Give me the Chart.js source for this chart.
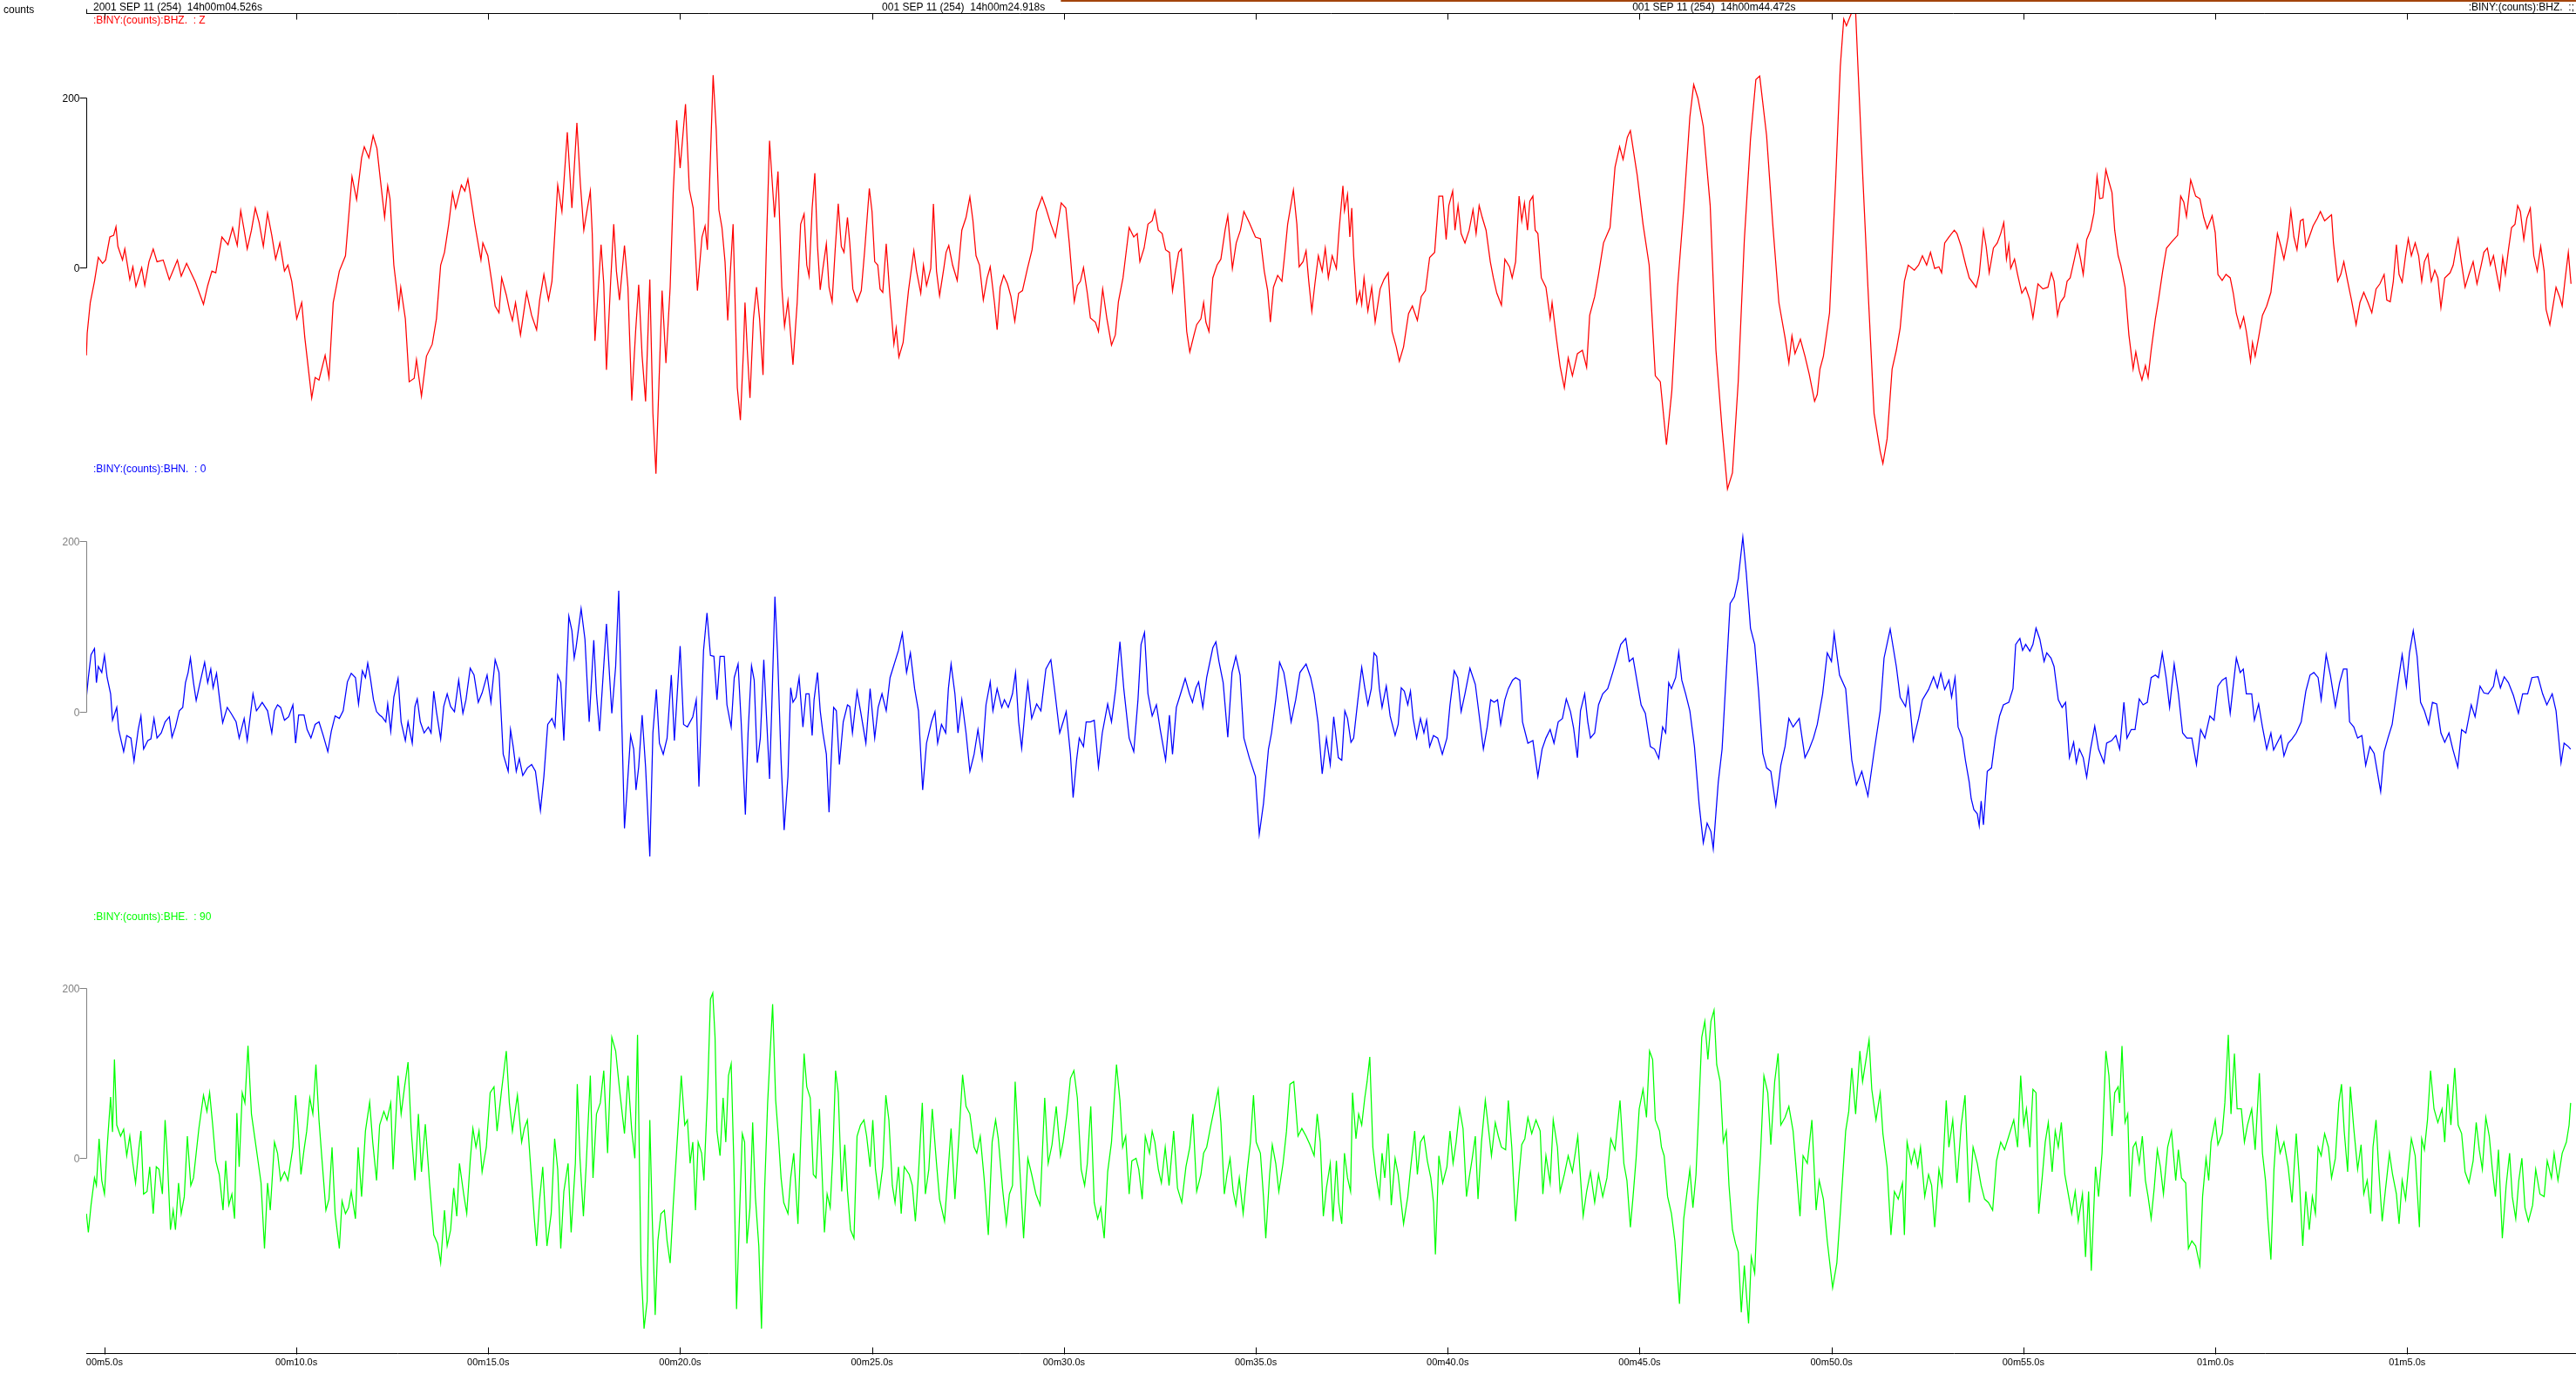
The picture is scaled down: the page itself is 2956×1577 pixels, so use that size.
<!DOCTYPE html>
<html>
<head>
<meta charset="utf-8">
<title>BINY seismogram</title>
<script src="https://cdn.jsdelivr.net/npm/chart.js@4.4.1/dist/chart.umd.min.js"></script>
<style>
  html, body { margin: 0; padding: 0; background: #fff; overflow: hidden; }
  #wrap { position: relative; width: 2956px; height: 1577px; }
</style>
</head>
<body>
<div id="wrap"><canvas id="seis" width="2956" height="1577"></canvas></div>
<script>
// [seconds after 14h00m, counts]
const bhzTrace = [
  [4.53,-103],[4.55,-77],[4.63,-41],[4.74,-16],[4.84,12],[4.95,5],[5.03,9],[5.14,36],[5.24,38],[5.30,48],[5.35,25],[5.47,9],
  [5.53,22],[5.66,-14],[5.74,1],[5.82,-22],[5.97,0],[6.05,-21],[6.16,7],[6.27,22],[6.37,7],[6.53,9],[6.69,-14],[6.90,9],
  [7.00,-10],[7.14,5],[7.37,-17],[7.58,-43],[7.69,-21],[7.80,-4],[7.90,-6],[8.06,36],[8.22,27],[8.34,47],[8.46,26],[8.55,67],
  [8.64,44],[8.72,22],[8.83,44],[8.93,70],[9.03,53],[9.14,25],[9.25,64],[9.36,38],[9.46,10],[9.57,29],[9.69,-4],[9.78,3],
  [9.88,-16],[10.01,-60],[10.14,-41],[10.22,-82],[10.40,-153],[10.49,-129],[10.59,-132],[10.75,-103],[10.85,-129],[10.96,-41],[11.12,-4],[11.28,14],
  [11.45,107],[11.57,80],[11.70,129],[11.77,142],[11.89,129],[12.00,155],[12.10,140],[12.18,107],[12.30,59],[12.38,96],[12.44,81],[12.54,3],
  [12.67,-47],[12.72,-23],[12.84,-60],[12.94,-134],[13.07,-130],[13.13,-108],[13.26,-151],[13.39,-104],[13.54,-90],[13.65,-60],[13.76,3],[13.86,18],
  [13.97,51],[14.07,88],[14.15,70],[14.30,97],[14.39,90],[14.47,104],[14.55,81],[14.65,51],[14.81,9],[14.86,29],[14.99,14],[15.09,-16],
  [15.18,-45],[15.28,-53],[15.35,-12],[15.47,-32],[15.55,-49],[15.63,-62],[15.71,-41],[15.84,-79],[16.00,-29],[16.13,-56],[16.26,-73],[16.34,-38],
  [16.45,-8],[16.57,-38],[16.66,-16],[16.81,97],[16.92,66],[17.06,159],[17.18,70],[17.31,170],[17.40,99],[17.49,44],[17.57,66],[17.66,90],
  [17.71,40],[17.78,-86],[17.87,-23],[17.94,27],[18.01,-19],[18.08,-120],[18.19,-16],[18.27,51],[18.34,-4],[18.42,-38],[18.55,26],[18.64,-23],
  [18.74,-156],[18.84,-75],[18.92,-20],[19.01,-104],[19.10,-157],[19.21,-14],[19.29,-171],[19.37,-242],[19.45,-134],[19.53,-27],[19.63,-112],[19.74,-23],
  [19.82,88],[19.91,173],[20.00,117],[20.14,192],[20.24,92],[20.34,70],[20.45,-27],[20.57,36],[20.65,49],[20.71,21],[20.86,226],[20.94,162],
  [21.01,68],[21.09,47],[21.17,7],[21.24,-62],[21.31,-4],[21.38,51],[21.49,-141],[21.57,-179],[21.65,-97],[21.69,-41],[21.75,-97],[21.82,-153],
  [21.91,-60],[21.99,-23],[22.07,-60],[22.16,-126],[22.25,29],[22.33,149],[22.38,114],[22.46,59],[22.55,113],[22.65,-23],[22.72,-69],[22.81,-39],
  [22.88,-79],[22.94,-114],[23.05,-41],[23.14,51],[23.23,63],[23.30,3],[23.36,-10],[23.44,70],[23.51,111],[23.58,25],[23.65,-26],[23.72,-1],
  [23.81,28],[23.88,-23],[23.96,-40],[24.04,21],[24.12,75],[24.20,25],[24.27,18],[24.36,59],[24.42,29],[24.50,-25],[24.61,-40],[24.72,-27],
  [24.81,21],[24.93,93],[25.00,66],[25.07,7],[25.15,3],[25.21,-25],[25.28,-29],[25.37,28],[25.46,-29],[25.57,-90],[25.63,-71],[25.70,-105],
  [25.81,-88],[25.95,-27],[26.09,20],[26.16,-4],[26.27,-30],[26.34,3],[26.42,-21],[26.53,-1],[26.60,75],[26.68,-4],[26.76,-33],[26.87,-1],
  [26.93,18],[27.00,26],[27.10,3],[27.22,-15],[27.34,44],[27.45,59],[27.55,83],[27.63,55],[27.71,14],[27.80,3],[27.90,-38],[28.00,-12],
  [28.08,1],[28.19,-41],[28.26,-73],[28.34,-23],[28.43,-9],[28.53,-19],[28.62,-34],[28.72,-63],[28.82,-30],[28.92,-27],[29.05,-1],[29.17,21],
  [29.29,66],[29.43,83],[29.53,70],[29.66,51],[29.78,36],[29.93,76],[30.05,70],[30.14,29],[30.20,-4],[30.27,-40],[30.35,-21],[30.43,-16],
  [30.51,0],[30.61,-30],[30.69,-59],[30.82,-64],[30.90,-75],[31.01,-25],[31.12,-60],[31.24,-91],[31.34,-79],[31.42,-40],[31.54,-12],[31.61,14],
  [31.70,47],[31.82,36],[31.91,40],[31.98,7],[32.09,23],[32.19,51],[32.30,55],[32.37,67],[32.46,44],[32.56,40],[32.65,21],[32.75,18],
  [32.83,-27],[32.91,-3],[32.99,18],[33.06,22],[33.12,-16],[33.20,-75],[33.28,-99],[33.39,-79],[33.46,-67],[33.57,-60],[33.64,-41],[33.70,-64],
  [33.78,-75],[33.88,-12],[33.99,3],[34.09,10],[34.20,44],[34.27,61],[34.39,-1],[34.49,29],[34.60,44],[34.69,66],[34.83,53],[34.99,36],
  [35.12,34],[35.22,-4],[35.31,-27],[35.38,-64],[35.46,-23],[35.57,-9],[35.68,-16],[35.75,14],[35.83,51],[35.98,91],[36.07,51],[36.13,1],
  [36.23,7],[36.31,20],[36.38,-16],[36.46,-51],[36.54,-19],[36.63,14],[36.73,-4],[36.81,23],[36.89,-12],[36.99,14],[37.10,-1],[37.17,44],
  [37.27,96],[37.31,67],[37.39,86],[37.45,36],[37.50,70],[37.55,14],[37.63,-41],[37.71,-28],[37.76,-43],[37.82,-12],[37.92,-51],[38.02,-23],
  [38.11,-64],[38.24,-25],[38.34,-14],[38.45,-6],[38.55,-75],[38.66,-93],[38.74,-110],[38.85,-93],[38.98,-54],[39.08,-45],[39.21,-62],[39.31,-34],
  [39.42,-27],[39.53,12],[39.66,18],[39.77,84],[39.87,84],[39.96,33],[40.03,73],[40.13,90],[40.19,44],[40.27,73],[40.35,40],[40.45,29],
  [40.56,44],[40.66,68],[40.74,40],[40.82,73],[40.90,59],[41.00,44],[41.11,7],[41.19,-12],[41.28,-30],[41.40,-44],[41.49,10],[41.61,1],
  [41.68,-12],[41.77,7],[41.86,84],[41.93,55],[42.00,76],[42.08,44],[42.14,78],[42.22,84],[42.28,44],[42.35,40],[42.44,-12],[42.56,-23],
  [42.67,-60],[42.72,-41],[42.83,-82],[42.93,-116],[43.04,-141],[43.14,-106],[43.25,-127],[43.38,-101],[43.51,-97],[43.62,-117],[43.70,-56],[43.83,-34],
  [43.93,-8],[44.06,29],[44.23,47],[44.36,118],[44.48,142],[44.57,127],[44.68,153],[44.76,161],[44.94,108],[45.09,51],[45.25,3],[45.41,-127],
  [45.54,-134],[45.70,-208],[45.84,-145],[45.99,-23],[46.15,70],[46.31,177],[46.41,215],[46.52,199],[46.66,166],[46.84,73],[46.99,-97],[47.15,-190],
  [47.29,-260],[47.42,-241],[47.57,-134],[47.73,33],[47.89,151],[48.03,221],[48.13,225],[48.31,155],[48.47,51],[48.63,-41],[48.79,-82],[48.89,-112],
  [48.97,-80],[49.05,-101],[49.19,-84],[49.31,-104],[49.42,-125],[49.56,-157],[49.63,-149],[49.70,-119],[49.79,-104],[49.95,-53],[50.11,103],[50.23,236],
  [50.32,292],[50.39,284],[50.53,300],[50.63,300],[50.69,236],[50.82,103],[50.95,-23],[51.11,-171],[51.27,-216],[51.34,-230],[51.45,-201],[51.58,-119],
  [51.69,-97],[51.79,-71],[51.90,-16],[52.00,3],[52.16,-3],[52.27,3],[52.37,14],[52.48,3],[52.58,18],[52.69,-1],[52.80,1],[52.87,-6],
  [52.95,29],[53.06,36],[53.20,44],[53.27,40],[53.38,25],[53.50,3],[53.59,-12],[53.77,-23],[53.85,-8],[53.96,44],[54.03,25],[54.11,-6],
  [54.22,23],[54.32,29],[54.41,40],[54.49,53],[54.56,10],[54.62,27],[54.67,-1],[54.77,10],[54.85,-8],[54.96,-30],[55.06,-23],[55.17,-38],
  [55.25,-59],[55.38,-19],[55.51,-25],[55.64,-23],[55.73,-6],[55.80,-16],[55.89,-56],[55.96,-41],[56.07,-34],[56.14,-16],[56.22,-12],[56.33,10],
  [56.41,27],[56.49,10],[56.56,-8],[56.65,33],[56.75,44],[56.84,64],[56.92,107],[56.99,81],[57.07,82],[57.15,115],[57.23,101],[57.31,88],
  [57.38,44],[57.47,14],[57.54,3],[57.65,-23],[57.75,-79],[57.86,-119],[57.93,-99],[58.02,-121],[58.09,-132],[58.18,-115],[58.25,-129],[58.33,-97],
  [58.44,-60],[58.52,-38],[58.63,-4],[58.73,23],[58.86,30],[59.02,38],[59.10,84],[59.18,77],[59.25,60],[59.36,103],[59.49,84],[59.60,81],
  [59.70,59],[59.79,46],[59.92,61],[60.00,41],[60.07,-8],[60.18,-15],[60.28,-8],[60.39,-12],[60.47,-30],[60.55,-54],[60.65,-71],[60.74,-58],
  [60.81,-75],[60.92,-110],[60.97,-88],[61.04,-104],[61.13,-82],[61.23,-56],[61.34,-45],[61.45,-29],[61.52,-1],[61.62,40],[61.71,25],[61.79,10],
  [61.90,36],[61.97,67],[62.05,36],[62.13,21],[62.22,55],[62.29,57],[62.36,25],[62.45,36],[62.55,49],[62.66,58],[62.74,66],[62.85,55],
  [62.95,59],[63.03,62],[63.08,29],[63.19,-16],[63.27,-8],[63.35,7],[63.45,-16],[63.55,-38],[63.67,-67],[63.77,-41],[63.87,-29],[63.98,-41],
  [64.08,-53],[64.19,-25],[64.29,-19],[64.40,-8],[64.47,-38],[64.56,-40],[64.64,-16],[64.72,27],[64.79,-8],[64.87,-17],[64.96,14],[65.03,34],
  [65.11,14],[65.21,29],[65.30,14],[65.38,-16],[65.45,7],[65.54,16],[65.63,-16],[65.72,-3],[65.80,-12],[65.88,-47],[65.98,-12],[66.12,-6],
  [66.20,3],[66.27,21],[66.33,34],[66.41,7],[66.51,-23],[66.61,-8],[66.72,7],[66.82,-19],[66.93,3],[67.00,18],[67.09,23],[67.17,3],
  [67.25,14],[67.32,-4],[67.41,-25],[67.49,12],[67.56,-8],[67.64,21],[67.72,47],[67.81,51],[67.88,73],[67.95,66],[68.04,33],[68.12,58],
  [68.21,70],[68.30,14],[68.39,-4],[68.48,25],[68.57,-4],[68.62,-49],[68.72,-67],[68.80,-45],[68.88,-23],[68.97,-34],[69.04,-45],[69.11,-16],
  [69.20,18],[69.27,-19]
];

const bhnTrace = [
  [4.53,17],[4.58,40],[4.65,67],[4.74,74],[4.79,34],[4.84,53],[4.93,46],[5.00,66],[5.07,40],[5.16,21],[5.21,-10],[5.32,5],
  [5.37,-21],[5.50,-47],[5.58,-28],[5.69,-31],[5.77,-58],[5.88,-21],[5.95,-5],[6.02,-44],[6.13,-34],[6.21,-32],[6.29,-8],[6.37,-31],
  [6.48,-25],[6.58,-12],[6.69,-6],[6.76,-30],[6.85,-18],[6.95,1],[7.04,5],[7.11,34],[7.18,46],[7.24,63],[7.32,34],[7.39,13],
  [7.48,32],[7.61,58],[7.69,34],[7.77,50],[7.83,28],[7.92,45],[8.01,11],[8.08,-13],[8.20,5],[8.30,-2],[8.43,-12],[8.51,-31],
  [8.64,-8],[8.72,-34],[8.80,-5],[8.87,21],[8.96,1],[9.04,6],[9.11,11],[9.25,1],[9.36,-25],[9.43,1],[9.51,8],[9.59,5],
  [9.69,-10],[9.80,-6],[9.91,8],[9.98,-37],[10.06,-4],[10.20,-4],[10.28,-21],[10.38,-31],[10.49,-15],[10.59,-12],[10.70,-28],[10.82,-47],
  [10.91,-23],[11.01,-5],[11.12,-8],[11.22,1],[11.33,35],[11.43,45],[11.54,40],[11.62,9],[11.72,48],[11.80,40],[11.86,57],[11.93,39],
  [12.01,14],[12.09,0],[12.17,-4],[12.23,-6],[12.33,-12],[12.38,9],[12.46,-23],[12.54,17],[12.65,39],[12.73,-12],[12.84,-34],[12.91,-12],
  [13.02,-37],[13.09,6],[13.15,15],[13.23,-12],[13.33,-25],[13.44,-18],[13.51,-25],[13.58,24],[13.65,0],[13.76,-32],[13.84,6],[13.93,21],
  [14.02,6],[14.12,0],[14.23,37],[14.34,-2],[14.42,14],[14.53,51],[14.63,43],[14.74,11],[14.84,22],[14.97,43],[15.07,11],[15.18,61],
  [15.28,46],[15.39,-50],[15.52,-70],[15.58,-21],[15.65,-41],[15.73,-70],[15.81,-55],[15.90,-75],[16.02,-66],[16.13,-62],[16.23,-70],[16.36,-116],
  [16.45,-76],[16.55,-15],[16.66,-8],[16.74,-18],[16.81,43],[16.89,34],[16.97,-34],[17.10,112],[17.18,95],[17.24,63],[17.29,76],[17.42,121],
  [17.52,85],[17.63,-12],[17.75,84],[17.82,21],[17.90,-23],[18.08,103],[18.22,-2],[18.32,53],[18.40,142],[18.48,-12],[18.55,-137],[18.64,-76],
  [18.71,-28],[18.79,-44],[18.85,-92],[18.92,-65],[19.01,-4],[19.10,-65],[19.21,-170],[19.29,-25],[19.38,26],[19.46,-37],[19.56,-50],[19.66,-31],
  [19.77,43],[19.85,-34],[20.00,77],[20.09,-15],[20.19,-18],[20.33,-6],[20.42,14],[20.49,-88],[20.61,72],[20.70,116],[20.79,66],[20.88,65],
  [20.96,14],[21.04,65],[21.15,65],[21.22,8],[21.33,-18],[21.41,40],[21.51,56],[21.59,-12],[21.70,-121],[21.77,-25],[21.86,54],[21.93,37],
  [22.01,-60],[22.09,-31],[22.18,61],[22.25,-5],[22.33,-79],[22.39,8],[22.47,135],[22.54,66],[22.63,-57],[22.71,-139],[22.81,-76],[22.88,28],
  [22.94,11],[23.02,17],[23.10,40],[23.20,-18],[23.28,21],[23.36,21],[23.44,-28],[23.49,14],[23.58,46],[23.65,1],[23.72,-25],[23.81,-50],
  [23.88,-118],[23.93,-63],[24.00,5],[24.07,1],[24.15,-62],[24.25,-12],[24.36,8],[24.42,6],[24.49,-25],[24.61,24],[24.70,1],[24.84,-37],
  [24.95,27],[25.07,-31],[25.16,5],[25.26,21],[25.37,1],[25.47,40],[25.60,59],[25.69,72],[25.79,92],[25.90,46],[26.00,69],[26.11,27],
  [26.21,1],[26.32,-92],[26.42,-37],[26.55,-12],[26.64,0],[26.71,-37],[26.81,-15],[26.92,-25],[26.99,27],[27.06,56],[27.16,21],[27.24,-25],
  [27.34,14],[27.45,-25],[27.55,-70],[27.66,-50],[27.76,-21],[27.87,-55],[27.97,8],[28.08,35],[28.15,1],[28.26,27],[28.38,5],[28.45,14],
  [28.55,5],[28.66,21],[28.74,46],[28.82,-12],[28.90,-43],[29.00,8],[29.06,34],[29.16,-8],[29.29,9],[29.40,1],[29.53,50],[29.66,61],
  [29.77,21],[29.89,-25],[29.98,-12],[30.06,0],[30.17,-50],[30.24,-101],[30.33,-57],[30.40,-31],[30.51,-41],[30.58,-12],[30.69,-12],[30.79,-10],
  [30.90,-65],[31.00,-25],[31.14,9],[31.24,-12],[31.35,27],[31.46,82],[31.56,27],[31.70,-31],[31.82,-47],[31.93,14],[32.01,79],[32.10,93],
  [32.19,21],[32.30,-5],[32.41,8],[32.51,-21],[32.65,-57],[32.75,-4],[32.83,-50],[32.93,5],[33.04,21],[33.16,39],[33.27,21],[33.35,11],
  [33.44,28],[33.51,35],[33.62,5],[33.72,40],[33.88,75],[33.96,82],[34.04,59],[34.15,34],[34.27,-30],[34.38,46],[34.48,65],[34.59,43],
  [34.69,-31],[34.83,-54],[34.99,-76],[35.09,-144],[35.20,-108],[35.33,-44],[35.41,-25],[35.52,14],[35.62,58],[35.73,46],[35.80,27],[35.92,-12],
  [36.04,14],[36.15,46],[36.31,56],[36.43,40],[36.52,21],[36.62,-12],[36.73,-73],[36.84,-31],[36.94,-62],[37.03,-6],[37.15,-54],[37.24,-57],
  [37.32,1],[37.39,-8],[37.48,-36],[37.55,-31],[37.66,14],[37.76,52],[37.84,28],[37.92,8],[38.01,27],[38.08,69],[38.15,65],[38.22,27],
  [38.29,5],[38.40,30],[38.50,-5],[38.63,-28],[38.71,-15],[38.79,28],[38.87,24],[38.96,8],[39.03,24],[39.10,-8],[39.19,-31],[39.29,-8],
  [39.38,-25],[39.45,-10],[39.53,-41],[39.63,-28],[39.74,-31],[39.86,-50],[39.98,-31],[40.06,8],[40.17,48],[40.26,40],[40.35,0],[40.45,21],
  [40.58,51],[40.72,32],[40.82,-4],[40.93,-44],[41.03,-18],[41.12,14],[41.21,11],[41.30,14],[41.38,-15],[41.49,14],[41.58,27],[41.69,37],
  [41.77,40],[41.88,37],[41.95,-12],[42.09,-37],[42.22,-34],[42.35,-76],[42.46,-44],[42.56,-31],[42.67,-21],[42.77,-37],[42.88,-12],[42.99,-8],
  [43.09,15],[43.20,0],[43.28,-19],[43.38,-54],[43.46,1],[43.57,21],[43.65,-12],[43.72,-31],[43.83,-25],[43.93,8],[44.04,21],[44.17,27],
  [44.30,46],[44.41,63],[44.51,79],[44.64,86],[44.73,59],[44.83,63],[44.94,34],[45.04,8],[45.15,-2],[45.28,-41],[45.39,-44],[45.50,-55],
  [45.60,-18],[45.68,-25],[45.76,34],[45.83,27],[45.94,40],[46.02,70],[46.10,37],[46.20,21],[46.31,1],[46.43,-41],[46.55,-108],[46.66,-154],
  [46.76,-131],[46.86,-141],[46.92,-161],[47.05,-83],[47.15,-44],[47.26,46],[47.36,127],[47.47,135],[47.57,156],[47.69,205],[47.78,163],[47.89,98],
  [48.00,79],[48.10,24],[48.21,-49],[48.31,-66],[48.42,-70],[48.55,-110],[48.68,-63],[48.79,-41],[48.89,-8],[49.00,-18],[49.16,-8],[49.31,-54],
  [49.42,-44],[49.53,-31],[49.63,-15],[49.77,21],[49.89,69],[50.00,59],[50.07,92],[50.21,43],[50.37,27],[50.53,-57],[50.65,-86],[50.79,-70],
  [50.95,-99],[51.11,-47],[51.27,1],[51.37,63],[51.53,97],[51.69,53],[51.79,17],[51.93,6],[52.00,28],[52.13,-34],[52.27,-8],[52.37,14],
  [52.53,26],[52.66,41],[52.76,28],[52.85,45],[52.95,26],[53.06,37],[53.13,17],[53.22,40],[53.30,-18],[53.41,-31],[53.49,-57],[53.59,-83],
  [53.64,-102],[53.71,-115],[53.80,-120],[53.85,-134],[53.90,-105],[53.96,-133],[54.06,-70],[54.17,-66],[54.27,-31],[54.38,-5],[54.48,8],[54.62,11],
  [54.73,27],[54.80,79],[54.91,86],[54.98,72],[55.06,79],[55.17,71],[55.25,79],[55.33,98],[55.43,85],[55.54,59],[55.61,69],[55.72,63],
  [55.80,53],[55.91,14],[56.01,5],[56.10,11],[56.20,-54],[56.31,-36],[56.38,-60],[56.46,-44],[56.56,-54],[56.65,-77],[56.75,-44],[56.86,-17],
  [56.96,-44],[57.10,-60],[57.17,-37],[57.30,-34],[57.41,-28],[57.51,-44],[57.62,11],[57.70,-31],[57.81,-21],[57.91,-21],[58.02,15],[58.12,8],
  [58.23,11],[58.33,40],[58.44,43],[58.52,40],[58.62,69],[58.72,40],[58.81,5],[58.93,56],[59.04,21],[59.15,-25],[59.26,-31],[59.39,-31],
  [59.51,-62],[59.62,-21],[59.73,-31],[59.86,-5],[59.97,-10],[60.07,30],[60.18,37],[60.28,40],[60.39,-2],[60.46,27],[60.55,63],[60.65,46],
  [60.73,50],[60.81,21],[60.95,21],[61.02,-10],[61.13,9],[61.23,-18],[61.34,-44],[61.45,-25],[61.52,-45],[61.62,-36],[61.71,-28],[61.79,-52],
  [61.90,-37],[62.00,-32],[62.11,-25],[62.24,-12],[62.36,24],[62.47,43],[62.57,46],[62.68,40],[62.76,14],[62.89,67],[63.00,43],[63.13,6],
  [63.24,34],[63.34,50],[63.43,50],[63.50,-12],[63.61,-18],[63.71,-31],[63.82,-28],[63.92,-63],[64.03,-41],[64.14,-49],[64.22,-70],[64.31,-94],
  [64.40,-47],[64.50,-31],[64.61,-15],[64.72,21],[64.79,43],[64.87,67],[64.98,30],[65.06,69],[65.16,95],[65.26,65],[65.35,11],[65.45,1],
  [65.56,-15],[65.66,11],[65.77,9],[65.88,-25],[65.98,-36],[66.09,-25],[66.19,-44],[66.32,-65],[66.42,-21],[66.53,-25],[66.67,8],[66.77,-6],
  [66.90,30],[67.00,22],[67.11,21],[67.25,30],[67.32,48],[67.43,28],[67.53,41],[67.64,34],[67.77,19],[67.90,-2],[68.01,21],[68.14,21],
  [68.25,40],[68.41,41],[68.53,21],[68.64,8],[68.78,21],[68.88,1],[69.01,-60],[69.09,-37],[69.20,-41],[69.26,-44]
];

const bheTrace = [
  [4.53,-65],[4.58,-87],[4.65,-55],[4.74,-23],[4.79,-32],[4.86,23],[4.93,-26],[5.00,-42],[5.07,13],[5.16,72],[5.21,31],[5.26,116],
  [5.32,39],[5.42,26],[5.50,34],[5.58,3],[5.66,26],[5.74,-6],[5.81,-29],[5.90,13],[5.95,32],[6.02,-42],[6.11,-39],[6.18,-10],
  [6.27,-65],[6.35,-10],[6.42,-13],[6.51,-42],[6.58,45],[6.64,0],[6.72,-84],[6.79,-61],[6.85,-84],[6.93,-29],[7.00,-65],[7.08,-45],
  [7.16,26],[7.25,-32],[7.32,-23],[7.39,6],[7.46,35],[7.58,74],[7.67,55],[7.74,77],[7.82,39],[7.90,-3],[7.99,-19],[8.09,-61],
  [8.16,-3],[8.24,-55],[8.32,-42],[8.39,-71],[8.45,53],[8.51,-10],[8.59,77],[8.66,65],[8.74,132],[8.83,52],[8.92,23],[9.01,-6],
  [9.08,-29],[9.17,-106],[9.25,-29],[9.32,-61],[9.43,19],[9.51,6],[9.59,-26],[9.69,-16],[9.78,-26],[9.91,13],[9.98,74],[10.04,39],
  [10.12,-19],[10.20,10],[10.27,32],[10.35,71],[10.43,52],[10.51,110],[10.59,45],[10.66,3],[10.77,-61],[10.85,-48],[10.93,13],[11.01,-65],
  [11.12,-106],[11.19,-50],[11.28,-65],[11.36,-58],[11.43,-39],[11.54,-71],[11.61,13],[11.70,-45],[11.80,32],[11.91,66],[11.99,19],[12.09,-26],
  [12.17,39],[12.28,55],[12.36,45],[12.46,65],[12.52,-13],[12.65,97],[12.73,52],[12.82,84],[12.91,113],[12.99,35],[13.09,-26],[13.18,52],
  [13.26,-16],[13.36,40],[13.47,-29],[13.58,-90],[13.68,-100],[13.76,-123],[13.86,-61],[13.93,-103],[14.02,-84],[14.10,-35],[14.18,-68],[14.25,-6],
  [14.36,-42],[14.44,-65],[14.53,-3],[14.60,35],[14.68,13],[14.76,32],[14.84,-16],[14.95,13],[15.05,77],[15.15,84],[15.23,32],[15.34,77],
  [15.47,126],[15.55,65],[15.63,32],[15.76,74],[15.87,19],[15.94,35],[16.02,45],[16.11,-13],[16.20,-71],[16.26,-103],[16.34,-48],[16.42,-10],
  [16.53,-103],[16.64,-65],[16.73,23],[16.81,-13],[16.89,-106],[16.97,-39],[17.08,-6],[17.16,-87],[17.27,-6],[17.32,87],[17.39,0],[17.48,-68],
  [17.55,-10],[17.66,97],[17.73,-23],[17.82,52],[17.92,65],[18.01,103],[18.11,6],[18.22,142],[18.32,126],[18.43,77],[18.55,29],[18.64,97],
  [18.74,32],[18.82,0],[18.89,145],[18.98,-126],[19.06,-200],[19.14,-168],[19.21,45],[19.27,-65],[19.35,-184],[19.42,-97],[19.50,-65],[19.59,-61],
  [19.66,-97],[19.74,-123],[19.82,-55],[19.91,10],[20.03,97],[20.12,39],[20.19,45],[20.26,-6],[20.33,19],[20.40,-61],[20.47,19],[20.56,6],
  [20.62,-26],[20.72,84],[20.79,187],[20.85,194],[20.91,142],[20.96,32],[21.04,3],[21.12,71],[21.19,19],[21.26,97],[21.33,111],[21.40,-6],
  [21.47,-177],[21.54,-77],[21.62,29],[21.68,19],[21.74,-100],[21.82,-58],[21.89,42],[21.96,-45],[22.05,-103],[22.12,-200],[22.20,-39],[22.28,65],
  [22.33,110],[22.41,181],[22.49,68],[22.56,26],[22.63,-23],[22.70,-52],[22.81,-65],[22.88,-23],[22.96,6],[23.07,-77],[23.14,19],[23.23,123],
  [23.30,84],[23.39,71],[23.47,-19],[23.54,-23],[23.63,58],[23.68,3],[23.76,-87],[23.83,-42],[23.91,-58],[23.98,6],[24.05,103],[24.12,77],
  [24.21,-39],[24.29,16],[24.36,-39],[24.44,-84],[24.53,-94],[24.61,26],[24.70,39],[24.79,45],[24.86,26],[24.95,-10],[25.02,45],[25.09,-13],
  [25.18,-45],[25.28,-10],[25.36,74],[25.44,45],[25.53,-32],[25.60,-52],[25.69,-10],[25.76,-65],[25.84,-10],[25.97,-19],[26.05,-32],[26.13,-74],
  [26.21,-19],[26.31,65],[26.39,-42],[26.48,-13],[26.57,58],[26.68,-6],[26.76,-48],[26.89,-74],[26.97,-23],[27.06,35],[27.16,-48],[27.27,29],
  [27.36,98],[27.45,61],[27.55,52],[27.66,13],[27.73,6],[27.82,26],[27.92,-23],[28.03,-90],[28.13,19],[28.22,45],[28.29,23],[28.40,-35],
  [28.50,-77],[28.58,-42],[28.66,-32],[28.73,90],[28.82,13],[28.95,-94],[29.06,0],[29.16,-19],[29.27,-42],[29.38,-55],[29.50,71],[29.59,-6],
  [29.69,16],[29.80,61],[29.91,3],[29.98,19],[30.08,52],[30.17,94],[30.26,103],[30.35,71],[30.45,-13],[30.54,-32],[30.61,-6],[30.70,61],
  [30.79,-52],[30.88,-71],[30.96,-58],[31.05,-94],[31.14,-16],[31.24,19],[31.37,110],[31.46,68],[31.53,13],[31.61,26],[31.70,-42],[31.77,-3],
  [31.88,0],[31.95,-13],[32.04,-48],[32.12,26],[32.23,6],[32.30,32],[32.37,19],[32.46,-13],[32.54,-29],[32.64,13],[32.74,-32],[32.86,32],
  [32.96,-35],[33.07,-52],[33.18,-10],[33.28,13],[33.36,52],[33.46,-39],[33.57,-19],[33.64,6],[33.72,13],[33.83,39],[33.93,61],[34.02,81],
  [34.09,42],[34.18,-42],[34.25,-19],[34.33,0],[34.41,-39],[34.48,-55],[34.57,-23],[34.67,-65],[34.78,-13],[34.86,19],[34.94,74],[35.01,19],
  [35.12,6],[35.20,-45],[35.26,-94],[35.36,-19],[35.43,16],[35.52,-6],[35.60,-39],[35.71,-6],[35.80,32],[35.89,87],[35.99,90],[36.10,26],
  [36.20,35],[36.31,26],[36.41,16],[36.52,3],[36.60,52],[36.68,19],[36.76,-68],[36.84,-35],[36.94,-6],[37.01,-74],[37.10,-3],[37.16,-52],
  [37.24,-77],[37.31,6],[37.39,-23],[37.47,-39],[37.52,77],[37.61,23],[37.68,52],[37.76,39],[37.84,71],[37.90,90],[37.97,119],[38.05,13],
  [38.13,-19],[38.22,-45],[38.29,6],[38.36,-23],[38.45,29],[38.53,-55],[38.63,0],[38.71,-19],[38.77,-45],[38.85,-77],[38.96,-45],[39.03,-13],
  [39.14,32],[39.21,-19],[39.29,19],[39.38,26],[39.47,-3],[39.56,-23],[39.63,-52],[39.68,-113],[39.77,3],[39.87,-29],[39.98,-10],[40.06,32],
  [40.14,-6],[40.22,19],[40.31,58],[40.40,35],[40.49,-45],[40.56,-23],[40.64,0],[40.72,26],[40.79,-48],[40.88,19],[40.98,68],[41.07,32],
  [41.14,3],[41.24,42],[41.32,26],[41.40,13],[41.51,10],[41.58,68],[41.67,13],[41.77,-74],[41.86,-19],[41.93,16],[42.01,23],[42.09,48],
  [42.19,29],[42.30,45],[42.41,32],[42.48,-42],[42.56,3],[42.67,-29],[42.75,45],[42.86,13],[42.93,-39],[43.04,-19],[43.14,3],[43.25,-16],
  [43.39,26],[43.46,-23],[43.53,-68],[43.62,-39],[43.72,-16],[43.83,-52],[43.93,-19],[44.04,-45],[44.15,-23],[44.25,23],[44.36,10],[44.49,68],
  [44.59,-6],[44.67,-26],[44.76,-81],[44.83,-45],[44.91,0],[44.99,58],[45.09,81],[45.18,48],[45.26,126],[45.34,116],[45.41,45],[45.52,32],
  [45.57,13],[45.64,3],[45.73,-45],[45.83,-65],[45.92,-97],[45.99,-139],[46.04,-171],[46.15,-71],[46.23,-42],[46.31,-13],[46.39,-58],[46.47,-19],
  [46.55,65],[46.62,142],[46.70,161],[46.78,116],[46.86,161],[46.94,174],[47.01,110],[47.10,90],[47.18,19],[47.26,32],[47.33,-32],[47.42,-84],
  [47.50,-100],[47.57,-110],[47.65,-181],[47.73,-126],[47.84,-194],[47.91,-116],[48.00,-135],[48.07,-58],[48.15,3],[48.24,97],[48.34,77],[48.42,16],
  [48.52,90],[48.61,123],[48.68,39],[48.79,48],[48.89,61],[49.00,32],[49.10,-23],[49.18,-68],[49.26,3],[49.37,-6],[49.49,45],[49.60,-61],
  [49.68,-26],[49.79,-48],[49.89,-97],[50.03,-152],[50.14,-123],[50.24,-58],[50.37,32],[50.45,55],[50.53,106],[50.63,52],[50.74,126],[50.81,90],
  [50.90,116],[50.98,139],[51.05,81],[51.16,45],[51.27,77],[51.34,29],[51.45,-10],[51.55,-90],[51.64,-39],[51.74,-48],[51.85,-29],[51.90,-90],
  [51.97,19],[52.08,-6],[52.16,10],[52.25,-10],[52.32,13],[52.43,-45],[52.53,-19],[52.61,-32],[52.69,-81],[52.80,-13],[52.88,-32],[52.99,68],
  [53.06,13],[53.16,45],[53.27,-29],[53.38,39],[53.48,74],[53.59,-52],[53.69,13],[53.80,-6],[53.90,-32],[53.99,-48],[54.09,-52],[54.20,-61],
  [54.30,-3],[54.41,19],[54.51,10],[54.62,26],[54.75,45],[54.85,13],[54.93,97],[55.01,39],[55.08,58],[55.17,13],[55.25,81],[55.33,77],
  [55.40,-65],[55.49,-23],[55.57,19],[55.65,42],[55.75,-16],[55.83,32],[55.91,13],[55.99,42],[56.08,-19],[56.17,-42],[56.26,-65],[56.35,-39],
  [56.43,-74],[56.54,-42],[56.62,-116],[56.70,-39],[56.77,-132],[56.88,-10],[56.96,-45],[57.05,6],[57.15,126],[57.23,97],[57.31,26],[57.38,77],
  [57.47,84],[57.51,65],[57.57,132],[57.65,42],[57.72,52],[57.78,-45],[57.86,13],[57.93,19],[58.02,-6],[58.10,26],[58.18,-26],[58.25,-45],
  [58.33,-71],[58.41,-35],[58.49,10],[58.57,-10],[58.65,-42],[58.76,13],[58.86,32],[58.97,-26],[59.04,10],[59.12,-23],[59.23,-29],[59.30,-106],
  [59.39,-97],[59.49,-103],[59.60,-126],[59.67,-45],[59.76,0],[59.83,-26],[59.89,19],[60.00,45],[60.07,16],[60.18,29],[60.25,65],[60.34,145],
  [60.41,52],[60.50,123],[60.57,58],[60.68,58],[60.76,19],[60.84,39],[60.95,58],[61.04,10],[61.15,100],[61.23,6],[61.31,-26],[61.37,-71],
  [61.45,-119],[61.53,-13],[61.60,35],[61.69,6],[61.79,19],[61.90,-10],[62.00,-52],[62.11,29],[62.19,-23],[62.28,-103],[62.36,-39],[62.45,-84],
  [62.53,-45],[62.61,-65],[62.68,13],[62.76,3],[62.85,29],[62.95,13],[63.03,-23],[63.13,0],[63.22,65],[63.29,87],[63.36,32],[63.45,-16],
  [63.52,84],[63.61,35],[63.71,-13],[63.80,16],[63.87,-42],[63.96,-26],[64.05,-65],[64.11,13],[64.19,45],[64.26,-13],[64.35,-74],[64.43,-39],
  [64.54,6],[64.62,-19],[64.72,-42],[64.79,-77],[64.87,-26],[64.96,-48],[65.03,-13],[65.11,23],[65.21,3],[65.32,-81],[65.38,23],[65.45,10],
  [65.53,45],[65.61,103],[65.70,58],[65.80,42],[65.91,58],[65.98,19],[66.06,87],[66.14,39],[66.24,106],[66.33,39],[66.42,29],[66.51,-16],
  [66.61,-29],[66.72,-3],[66.80,42],[66.88,10],[66.96,-13],[67.05,48],[67.14,26],[67.22,-13],[67.30,-45],[67.38,10],[67.48,-94],[67.58,-32],
  [67.67,6],[67.74,-45],[67.83,-71],[67.91,-26],[67.99,0],[68.07,-58],[68.16,-74],[68.27,-55],[68.35,-13],[68.46,-42],[68.57,-45],[68.65,-3],
  [68.76,-23],[68.83,6],[68.93,-26],[69.04,6],[69.15,19],[69.22,39],[69.26,65]
];

const channelLabels = [':BINY:(counts):BHZ.  : Z', ':BINY:(counts):BHN.  : 0', ':BINY:(counts):BHE.  : 90'];
const tickSeconds = [5, 10, 15, 20, 25, 30, 35, 40, 45, 50, 55, 60, 65];
const tickLabels = ['00m5.0s', '00m10.0s', '00m15.0s', '00m20.0s', '00m25.0s', '00m30.0s', '00m35.0s',
                    '00m40.0s', '00m45.0s', '00m50.0s', '00m55.0s', '01m0.0s', '01m5.0s'];
const startTime = 4.526;
const endTime = 69.4;
const startLabel = '2001 SEP 11 (254)  14h00m04.526s';
const headerTimes = [24.918, 44.472];
const headerLabels = ['001 SEP 11 (254)  14h00m24.918s', '001 SEP 11 (254)  14h00m44.472s'];
const rightLabel = ':BINY:(counts):BHZ.  :;';
const markStart = 29.92; // brown bar along the very top

// page layout (pixels)
const plotTop = 16, plotBottom = 1558, pxPerCount = 0.98;
const panels = [
  { data: bhzTrace, color: '#ff0000', frame: '#000000', zero: 308, labelY: 27 },
  { data: bhnTrace, color: '#0000ff', frame: '#808080', zero: 819, labelY: 542 },
  { data: bheTrace, color: '#00ff00', frame: '#808080', zero: 1333, labelY: 1056 }
];
const FONT = '"Liberation Sans", Arial, sans-serif';

const scales = {
  x: {
    type: 'linear', position: 'bottom', min: startTime, max: endTime,
    afterBuildTicks: s => { s.ticks = tickSeconds.map(v => ({ value: v })); },
    grid: { display: false, drawTicks: false },
    border: { display: true, color: '#000', width: 1 },
    ticks: {
      autoSkip: false, maxRotation: 0, padding: 4, color: '#000',
      font: { family: FONT, size: 11 },
      callback: v => tickLabels[tickSeconds.indexOf(v)]
    }
  }
};
panels.forEach((p, i) => {
  scales['y' + i] = {
    type: 'linear', display: false,
    min: -(plotBottom - p.zero) / pxPerCount,
    max: (p.zero - plotTop) / pxPerCount
  };
});

const frame = {
  id: 'frame',
  afterDraw(chart) {
    const ctx = chart.ctx, a = chart.chartArea, x = chart.scales.x;
    ctx.save();
    ctx.lineWidth = 1;
    ctx.strokeStyle = '#000';

    // top time axis
    const ty = Math.round(a.top) - 0.5;
    ctx.beginPath();
    ctx.moveTo(a.left, ty); ctx.lineTo(a.right, ty);
    ctx.moveTo(a.left + 0.5, ty); ctx.lineTo(a.left + 0.5, ty - 5);
    tickSeconds.forEach(t => {
      const px = Math.round(x.getPixelForValue(t)) + 0.5;
      ctx.moveTo(px, ty); ctx.lineTo(px, ty + 7);
    });
    // inner ticks on the bottom axis
    const by = Math.round(a.bottom) + 0.5;
    tickSeconds.forEach(t => {
      const px = Math.round(x.getPixelForValue(t)) + 0.5;
      ctx.moveTo(px, by); ctx.lineTo(px, by - 8);
    });
    ctx.stroke();

    // brown bar at the top
    ctx.strokeStyle = '#a3440c';
    ctx.lineWidth = 2;
    ctx.beginPath();
    ctx.moveTo(x.getPixelForValue(markStart), 1);
    ctx.lineTo(a.right, 1);
    ctx.stroke();

    // header texts
    ctx.fillStyle = '#000';
    ctx.font = '12px ' + FONT;
    ctx.textBaseline = 'alphabetic';
    ctx.textAlign = 'left';
    ctx.fillText('counts', 4, 15);
    ctx.fillText(startLabel, a.left + 8, 12);
    headerTimes.forEach((t, i) => ctx.fillText(headerLabels[i], x.getPixelForValue(t) + 15, 12));
    ctx.textAlign = 'right';
    ctx.fillText(rightLabel, a.right - 2, 12);

    // per channel amplitude brackets and names
    panels.forEach((p, i) => {
      const ys = chart.scales['y' + i];
      const y200 = Math.round(ys.getPixelForValue(200)) + 0.5;
      const y0 = Math.round(ys.getPixelForValue(0)) + 0.5;
      const lx = Math.round(a.left) + 0.5;
      ctx.strokeStyle = p.frame;
      ctx.lineWidth = 1;
      ctx.beginPath();
      ctx.moveTo(lx - 8, y200); ctx.lineTo(lx, y200); ctx.lineTo(lx, y0); ctx.lineTo(lx - 8, y0);
      ctx.stroke();
      ctx.fillStyle = p.frame;
      ctx.textAlign = 'right';
      ctx.textBaseline = 'middle';
      ctx.fillText('200', lx - 8, y200 + 1);
      ctx.fillText('0', lx - 8, y0 + 1);
      ctx.fillStyle = p.color;
      ctx.textAlign = 'left';
      ctx.textBaseline = 'alphabetic';
      ctx.fillText(channelLabels[i], a.left + 8, p.labelY);
    });
    ctx.restore();
  }
};

new Chart(document.getElementById('seis'), {
  type: 'line',
  data: {
    datasets: panels.map((p, i) => ({
      label: channelLabels[i],
      data: p.data.map(d => ({ x: d[0], y: d[1] })),
      yAxisID: 'y' + i,
      borderColor: p.color,
      borderWidth: 1.25,
      pointRadius: 0,
      tension: 0,
      fill: false
    }))
  },
  options: {
    responsive: false,
    devicePixelRatio: 1,
    animation: false,
    events: [],
    layout: { padding: { left: 99, right: 0, top: plotTop, bottom: 2 } },
    plugins: { legend: { display: false }, tooltip: { enabled: false } },
    scales
  },
  plugins: [frame]
});
</script>
</body>
</html>
